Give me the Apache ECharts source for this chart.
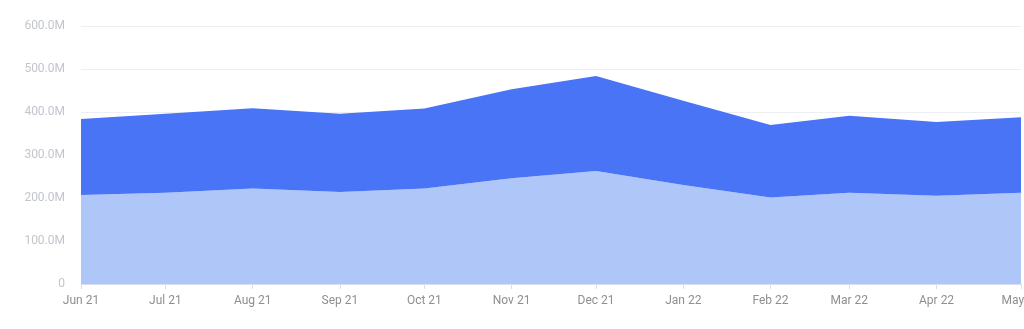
<!DOCTYPE html>
<html>
<head>
<meta charset="utf-8">
<script src="https://cdn.jsdelivr.net/npm/echarts@6/dist/echarts.min.js"></script>
<style>
  html, body { margin: 0; padding: 0; background: #fff; }
  #chart { width: 1024px; height: 329px; }
</style>
</head>
<body>
<div id="chart"></div>
<script>
// Monthly periods (first day of each month)
const months = ['2021-06-01', '2021-07-01', '2021-08-01', '2021-09-01', '2021-10-01', '2021-11-01',
                '2021-12-01', '2022-01-01', '2022-02-01', '2022-03-01', '2022-04-01', '2022-05-01'];
// Lower band (millions)
const baseValues = [207, 212, 222, 214, 222, 246, 263, 230, 201, 212, 205, 212];
// Upper band stacked on top (millions)
const topValues = [177, 184, 187, 182, 186, 207, 221, 196, 169, 179, 172, 176];
// Axis label pieces
const monthNames = ['Jan', 'Feb', 'Mar', 'Apr', 'May', 'Jun', 'Jul', 'Aug', 'Sep', 'Oct', 'Nov', 'Dec'];
const yTicks = [0, 100e6, 200e6, 300e6, 400e6, 500e6, 600e6];

const DAY = 86400000;
const toTime = s => { const p = s.split('-').map(Number); return new Date(p[0], p[1] - 1, p[2]).getTime(); };
const pairs = vals => months.map((m, i) => [toTime(m), vals[i] * 1e6]);

const chart = echarts.init(document.getElementById('chart'), null, { renderer: 'canvas' });
chart.setOption({
  animation: false,
  grid: { left: 81, right: 3, top: 26, bottom: 45, containLabel: false, outerBoundsMode: 'none' },
  xAxis: {
    type: 'time',
    min: toTime(months[0]),
    max: toTime(months[months.length - 1]),
    minInterval: 28 * DAY,
    maxInterval: 31 * DAY,
    axisLine: { lineStyle: { color: '#d9dfee', width: 1 } },
    axisTick: { show: true, length: 5, lineStyle: { color: '#d9dfee' } },
    splitLine: { show: false },
    axisLabel: {
      color: '#8f8f8f',
      fontFamily: 'Roboto',
      fontSize: 12,
      margin: 11,
      showMinLabel: true,
      showMaxLabel: true,
      hideOverlap: false,
      formatter: v => {
        const d = new Date(v);
        return monthNames[d.getMonth()] + ' ' + String(d.getFullYear()).slice(2);
      }
    }
  },
  yAxis: {
    type: 'value',
    min: yTicks[0],
    max: yTicks[yTicks.length - 1],
    interval: yTicks[1] - yTicks[0],
    axisLine: { show: false },
    axisTick: { show: false },
    splitLine: { lineStyle: { color: '#eeeff2', width: 1 } },
    axisLabel: {
      color: '#c2c5cd',
      fontFamily: 'Roboto',
      fontSize: 12,
      margin: 16,
      formatter: v => v === 0 ? '0' : (v / 1e6).toFixed(1) + 'M'
    }
  },
  series: [
    {
      type: 'line',
      stack: 'total',
      data: pairs(baseValues),
      symbol: 'none',
      lineStyle: { width: 0 },
      areaStyle: { color: '#afc6f8', opacity: 1 },
      z: 2
    },
    {
      type: 'line',
      stack: 'total',
      data: pairs(topValues),
      symbol: 'none',
      lineStyle: { width: 0 },
      areaStyle: { color: '#4a74f6', opacity: 1 },
      z: 2
    }
  ]
});
</script>
</body>
</html>
